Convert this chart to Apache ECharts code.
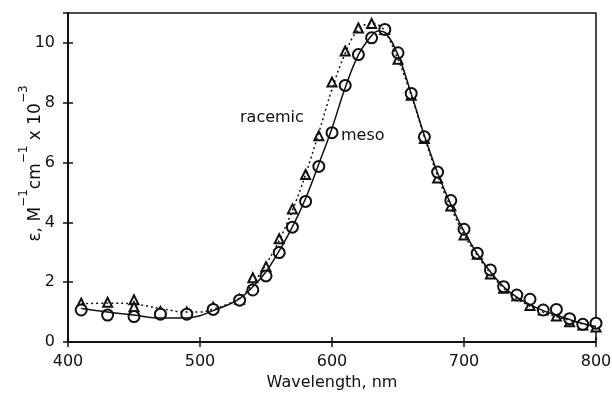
<!DOCTYPE html>
<html lang="en">
<head>
    <meta charset="UTF-8">
    <title>epsilon vs wavelength</title>
    <script src="https://cdn.jsdelivr.net/npm/echarts@6/dist/echarts.min.js"></script>
    <style>
        html, body { margin: 0; padding: 0; background: #fff; }
        #main { width: 612px; height: 393px; }
    </style>
</head>
<body>
<div id="main"></div>
<script type="text/javascript">
    // measured points (nm, eps x 10^-3)
    var pointWl = [410, 430, 450, 470, 490, 510, 530, 540, 550, 560, 570, 580, 590, 600, 610, 620, 630, 640, 650,
        660, 670, 680, 690, 700, 710, 720, 730, 740, 750, 760, 770, 780, 790, 800];
    var mesoPts = [1.07, 0.90, 0.85, 0.93, 0.93, 1.09, 1.40, 1.74, 2.21, 2.99, 3.84, 4.70, 5.87, 7.0, 8.58, 9.61, 10.17, 10.45, 9.67,
        8.31, 6.86, 5.68, 4.73, 3.77, 2.97, 2.41, 1.85, 1.57, 1.43, 1.07, 1.09, 0.78, 0.59, 0.63];
    var racemicPts = [1.30, 1.33, 1.41, 1.02, 1.00, 1.16, 1.43, 2.15, 2.52, 3.45, 4.45, 5.60, 6.90, 8.69, 9.73, 10.50, 10.65, 10.45, 9.45,
        8.25, 6.80, 5.48, 4.55, 3.58, 2.93, 2.27, 1.80, 1.55, 1.22, 1.07, 0.87, 0.68, 0.57, 0.50];
    // second racemic reading at 450 nm
    var racemicExtraWl = [450];
    var racemicExtra = [1.18];

    // fitted curves
    var curveWl = [410, 430, 450, 470, 490, 500, 510, 520, 530, 540, 550, 560, 570, 580, 590, 600, 610, 620, 630, 635, 640,
        650, 660, 670, 680, 690, 700, 710, 720, 730, 740, 750, 760, 770, 780, 790, 800];
    var mesoFit = [1.12, 1.0, 0.9, 0.8, 0.8, 0.88, 1.05, 1.22, 1.45, 1.85, 2.35, 3.05, 3.85, 4.8, 5.95, 7.15, 8.5, 9.6, 10.25, 10.4, 10.35,
        9.6, 8.3, 6.9, 5.65, 4.6, 3.7, 2.95, 2.35, 1.85, 1.5, 1.25, 1.05, 0.9, 0.75, 0.62, 0.52];
    var racemicFit = [1.28, 1.3, 1.27, 1.12, 1.0, 1.0, 1.1, 1.25, 1.47, 1.95, 2.6, 3.4, 4.4, 5.6, 7.0, 8.45, 9.65, 10.45, 10.65, 10.6, 10.4,
        9.45, 8.25, 6.85, 5.55, 4.5, 3.6, 2.9, 2.3, 1.8, 1.45, 1.2, 1.0, 0.85, 0.72, 0.6, 0.5];

    var xTicks = [400, 500, 600, 700, 800];
    var yTicks = [0, 2, 4, 6, 8, 10];

    function pairs(xs, ys) {
        return xs.map(function (x, i) { return [x, ys[i]]; });
    }

    var font = 'DejaVu Sans';
    var ink = '#111';

    var myChart = echarts.init(document.getElementById('main'), null, {renderer: 'canvas'});

    // two copies of each axis: one with ticks inside, one with ticks outside -> crossing ticks
    function xAxisDef(tickInside, showLabel) {
        return {
            type: 'value', position: 'bottom', min: xTicks[0], max: xTicks[xTicks.length - 1], interval: 100,
            splitLine: {show: false},
            axisLine: {show: true, onZero: false, lineStyle: {color: ink, width: 1.5}},
            axisTick: {show: true, inside: tickInside, length: 5, lineStyle: {color: ink, width: 1.5}},
            axisLabel: {show: showLabel, color: ink, fontFamily: font, fontSize: 16, margin: 12},
            name: showLabel ? 'Wavelength, nm' : '',
            nameLocation: 'middle', nameGap: 33, nameMoveOverlap: false,
            nameTextStyle: {color: ink, fontFamily: font, fontSize: 16}
        };
    }

    function yAxisDef(tickInside, showLabel) {
        return {
            type: 'value', position: 'left', min: 0, max: 11, interval: 2,
            splitLine: {show: false},
            axisLine: {show: true, onZero: false, lineStyle: {color: ink, width: 1.5}},
            axisTick: {show: true, inside: tickInside, length: 5, lineStyle: {color: ink, width: 1.5}},
            axisLabel: {show: showLabel, color: ink, fontFamily: font, fontSize: 16, margin: 13, showMaxLabel: false,
                formatter: function (v) { return yTicks.indexOf(v) >= 0 ? String(v) : ''; }},
            name: showLabel ? '{n|ε, M}{s|−1}{n|cm}{s|−1}{n| x 10}{s|−3}' : '',
            nameLocation: 'middle', nameGap: 24, nameRotate: 90, nameMoveOverlap: false,
            nameTextStyle: {
                color: ink, fontFamily: font, fontSize: 17, padding: [0, 0, 0, 28],
                rich: {
                    n: {fontFamily: font, fontSize: 17, color: ink, lineHeight: 26, verticalAlign: 'bottom'},
                    s: {fontFamily: font, fontSize: 12, color: ink, lineHeight: 26, verticalAlign: 'top'}
                }
            }
        };
    }

    var option = {
        backgroundColor: '#fff',
        animation: false,
        grid: {left: 68, right: 16, top: 13, bottom: 51, containLabel: false, outerBoundsMode: 'none',
            show: true, borderColor: ink, borderWidth: 1.5},
        xAxis: [xAxisDef(true, true), xAxisDef(false, false)],
        yAxis: [yAxisDef(true, true), yAxisDef(false, false)],
        graphic: [
            {type: 'text', left: 240, top: 110, style: {text: 'racemic', fill: ink, font: '16px "DejaVu Sans"'}},
            {type: 'text', left: 341, top: 128, style: {text: 'meso', fill: ink, font: '16px "DejaVu Sans"'}}
        ],
        series: [
            {
                name: 'meso fit', type: 'line', smooth: 0.4, showSymbol: false, silent: true,
                data: pairs(curveWl, mesoFit),
                lineStyle: {color: ink, width: 1.5, type: 'solid'}
            },
            {
                name: 'racemic fit', type: 'line', smooth: 0.4, showSymbol: false, silent: true,
                data: pairs(curveWl, racemicFit),
                lineStyle: {color: ink, width: 1.5, type: [2, 3]}
            },
            {
                name: 'racemic', type: 'scatter', symbol: 'emptyTriangle', symbolSize: 9,
                data: pairs(pointWl, racemicPts).concat(pairs(racemicExtraWl, racemicExtra)),
                itemStyle: {color: ink, borderColor: ink, borderWidth: 1.5, opacity: 1}
            },
            {
                name: 'meso', type: 'scatter', symbol: 'emptyCircle', symbolSize: 11,
                data: pairs(pointWl, mesoPts),
                itemStyle: {color: ink, borderColor: ink, borderWidth: 1.5, opacity: 1}
            }
        ]
    };
    myChart.setOption(option);
</script>
</body>
</html>
